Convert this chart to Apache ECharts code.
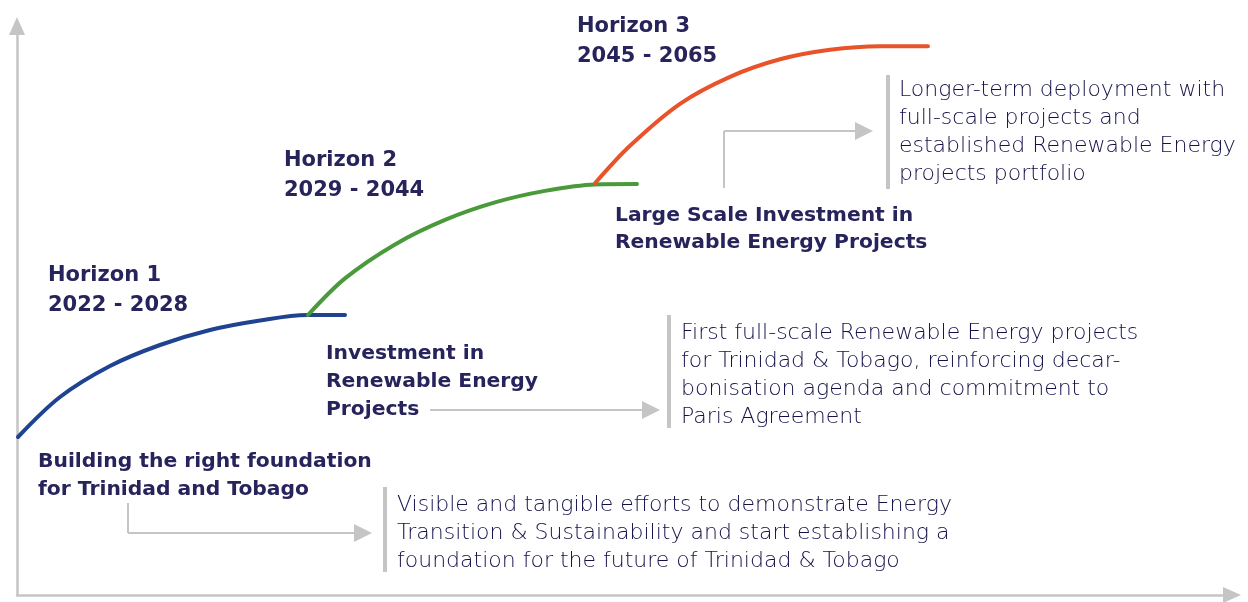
<!DOCTYPE html>
<html>
<head>
<meta charset="utf-8">
<script src="https://cdn.jsdelivr.net/npm/echarts@6/dist/echarts.min.js"></script>
<style>
  html, body { margin: 0; padding: 0; background: #fff; }
  #roadmap { width: 1248px; height: 602px; }
</style>
</head>
<body>
<div id="roadmap"></div>
<script>
// curve points, in axis units (x to the right of the y axis, y above the x axis)
const horizon1Curve = [[1, 158], [43, 198], [93, 229], [143, 250], [193, 265], [243, 274.5], [290, 280], [328, 280]];
const horizon2Curve = [[291, 280], [328, 316.6], [378, 350.6], [428, 375.1], [478, 392.6], [528, 404.1], [578, 410.6], [620, 411]];
const horizon3Curve = [[578, 411.7], [613, 449.2], [663, 491.2], [713, 518.2], [763, 535.7], [813, 545.2], [863, 548.8], [911, 548.8]];

// grey connectors: elbow stems and arrow runs
const connectorStems = [
  [[111, 92], [111, 62]],
  [[707, 407], [707, 464]]
];
const connectorArrows = [
  [[111, 62], [346, 62]],
  [[413, 185], [634, 185]],
  [[707, 464], [847, 464]]
];
// grey bars next to descriptions
const descBars = [
  [[368, 108], [368, 23]],
  [[652, 280], [652, 167]],
  [[871, 520], [871, 406]]
];

const horizonTitles = [
  ["Horizon 1", "2022 - 2028"],
  ["Horizon 2", "2029 - 2044"],
  ["Horizon 3", "2045 - 2065"]
];
const phaseLabels = [
  ["Building the right foundation", "for Trinidad and Tobago"],
  ["Investment in", "Renewable Energy", "Projects"],
  ["Large Scale Investment in", "Renewable Energy Projects"]
];
const phaseDescs = [
  ["Visible and tangible efforts to demonstrate Energy", "Transition & Sustainability and start establishing a", "foundation for the future of Trinidad & Tobago"],
  ["First full-scale Renewable Energy projects", "for Trinidad & Tobago, reinforcing decar-", "bonisation agenda and commitment to", "Paris Agreement"],
  ["Longer-term deployment with", "full-scale projects and", "established Renewable Energy", "projects portfolio"]
];

const GREY = "#c5c5c5";
const INK = "#27235b";
const LIGHT_INK = "#141148";

const chart = echarts.init(document.getElementById("roadmap"));

function textBlock(lines, left, top, font, color, lineHeight) {
  return {
    type: "text",
    left: left,
    top: top,
    style: {
      text: lines.join("\n"),
      font: font,
      fill: color,
      lineHeight: lineHeight
    }
  };
}

const boldTitle = 'bold 21px "DejaVu Sans"';
const boldLabel = 'bold 20.3px "DejaVu Sans"';
const lightDesc = '200 22px "DejaVu Sans"';

function curveSeries(data, color) {
  return {
    type: "line",
    data: data,
    smooth: 0.33,
    symbol: "none",
    lineStyle: { color: color, width: 4, cap: "round" }
  };
}

const option = {
  animation: false,
  backgroundColor: "#fff",
  grid: { left: 17, right: 16, top: 26, bottom: 7 },
  xAxis: {
    type: "value",
    min: 0,
    max: 1215,
    axisLine: {
      show: true,
      symbol: ["none", "triangle"],
      symbolSize: [16, 18],
      lineStyle: { color: GREY, width: 2.5 }
    },
    axisTick: { show: false },
    axisLabel: { show: false },
    splitLine: { show: false }
  },
  yAxis: {
    type: "value",
    min: 0,
    max: 569,
    axisLine: {
      show: true,
      symbol: ["none", "triangle"],
      symbolSize: [16, 18],
      lineStyle: { color: GREY, width: 2.5 }
    },
    axisTick: { show: false },
    axisLabel: { show: false },
    splitLine: { show: false }
  },
  series: [
    curveSeries(horizon1Curve, "#1f4390"),
    curveSeries(horizon2Curve, "#4a9a3b"),
    curveSeries(horizon3Curve, "#e9532a"),
    {
      type: "lines",
      coordinateSystem: "cartesian2d",
      symbol: ["none", "none"],
      lineStyle: { color: GREY, width: 2, opacity: 1 },
      data: connectorStems.map(c => ({ coords: c }))
        .concat(descBars.map(c => ({ coords: c, lineStyle: { width: 4 } })))
    },
    {
      type: "lines",
      coordinateSystem: "cartesian2d",
      symbol: ["none", "triangle"],
      symbolSize: [16, 18],
      lineStyle: { color: GREY, width: 2, opacity: 1 },
      itemStyle: { color: GREY },
      data: connectorArrows.map(c => ({ coords: c }))
    }
  ],
  graphic: [
    textBlock(horizonTitles[0], 48, 261, boldTitle, INK, 30),
    textBlock(horizonTitles[1], 284, 146, boldTitle, INK, 30),
    textBlock(horizonTitles[2], 577, 12, boldTitle, INK, 30),
    textBlock(phaseLabels[0], 38, 448, boldLabel, INK, 28),
    textBlock(phaseLabels[1], 326, 340, boldLabel, INK, 28),
    textBlock(phaseLabels[2], 615, 202, boldLabel, INK, 27),
    textBlock(phaseDescs[0], 397, 491, lightDesc, LIGHT_INK, 28),
    textBlock(phaseDescs[1], 681, 319, lightDesc, LIGHT_INK, 28),
    textBlock(phaseDescs[2], 899, 76, lightDesc, LIGHT_INK, 28)
  ]
};

chart.setOption(option);
</script>
</body>
</html>
